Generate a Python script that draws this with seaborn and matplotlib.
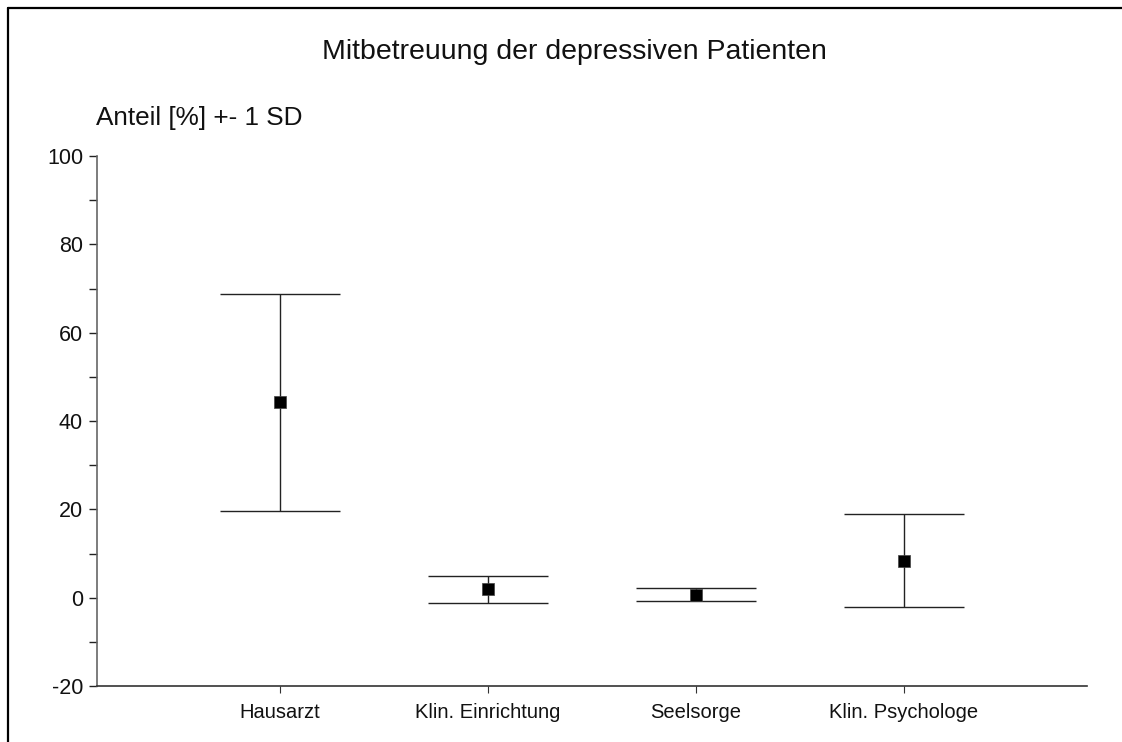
import matplotlib
matplotlib.use("Agg")
import matplotlib.pyplot as plt
from matplotlib.lines import Line2D
from matplotlib.ticker import MultipleLocator
import seaborn as sns
import pandas as pd

# Mean share (%) and one standard deviation per co-care provider
categories = ["Hausarzt", "Klin. Einrichtung", "Seelsorge", "Klin. Psychologe"]
means = [44.2, 1.9, 0.7, 8.4]
sds = [24.6, 3.0, 1.55, 10.5]
y_ticks = [-20, 0, 20, 40, 60, 80, 100]

sns.set_theme(style="white")
plt.rcParams["font.family"] = ["Liberation Sans", "DejaVu Sans"]
plt.rcParams["axes.unicode_minus"] = False

df = pd.DataFrame({"Anbieter": categories, "Anteil": means, "SD": sds})

fig = plt.figure(figsize=(11.22, 7.42), dpi=100)
ax = fig.add_axes([97 / 1122, 56 / 742, 990 / 1122, 530 / 742])

# Error bars (+- 1 SD) with wide caps
xpos = list(range(len(categories)))
ax.errorbar(xpos, df["Anteil"], yerr=df["SD"], fmt="none",
            ecolor="#222222", elinewidth=1.0, capsize=43, capthick=1.0,
            zorder=2)

# Mean markers
sns.scatterplot(data=df, x="Anbieter", y="Anteil", ax=ax, marker="s",
                s=80, color="black", edgecolor="#444444", linewidth=0.5,
                zorder=3, legend=False)

ax.set_xlim(-0.88, 3.88)
ax.set_ylim(-20, 100)
ax.set_yticks(y_ticks)
ax.yaxis.set_minor_locator(MultipleLocator(10))
ax.set_xticks(xpos)
ax.set_xticklabels(categories)
ax.set_xlabel("")
ax.set_ylabel("")

for side in ("top", "right"):
    ax.spines[side].set_visible(False)
ax.spines["left"].set_color("#666666")
ax.spines["left"].set_linewidth(1.2)
ax.spines["bottom"].set_color("#333333")
ax.spines["bottom"].set_linewidth(1.2)

ax.tick_params(axis="y", which="major", direction="out", length=6, width=1,
               color="#222222", left=True, labelsize=15.5, pad=4)
ax.tick_params(axis="y", which="minor", direction="out", length=6, width=1,
               color="#222222", left=True)
ax.tick_params(axis="x", which="major", direction="out", length=5, width=0.8,
               color="#333333", bottom=True, labelsize=14.5, pad=7)
for lab in ax.get_yticklabels() + ax.get_xticklabels():
    lab.set_color("#111111")

fig.text(574 / 1122, 1 - 52 / 742, "Mitbetreuung der depressiven Patienten",
         ha="center", va="center", fontsize=20.5, color="#111111")
fig.text(96 / 1122, 1 - 118 / 742, "Anteil [%] +- 1 SD",
         ha="left", va="center", fontsize=18.8, color="#111111")

# Outer frame (left and top edges)
fig.add_artist(Line2D([7.5 / 1122, 7.5 / 1122], [0, 1 - 7.5 / 742],
                      transform=fig.transFigure, color="black", linewidth=1.6))
fig.add_artist(Line2D([7.5 / 1122, 1], [1 - 7.5 / 742, 1 - 7.5 / 742],
                      transform=fig.transFigure, color="black", linewidth=1.6))

fig.savefig("out.png", dpi=100, facecolor="white")
